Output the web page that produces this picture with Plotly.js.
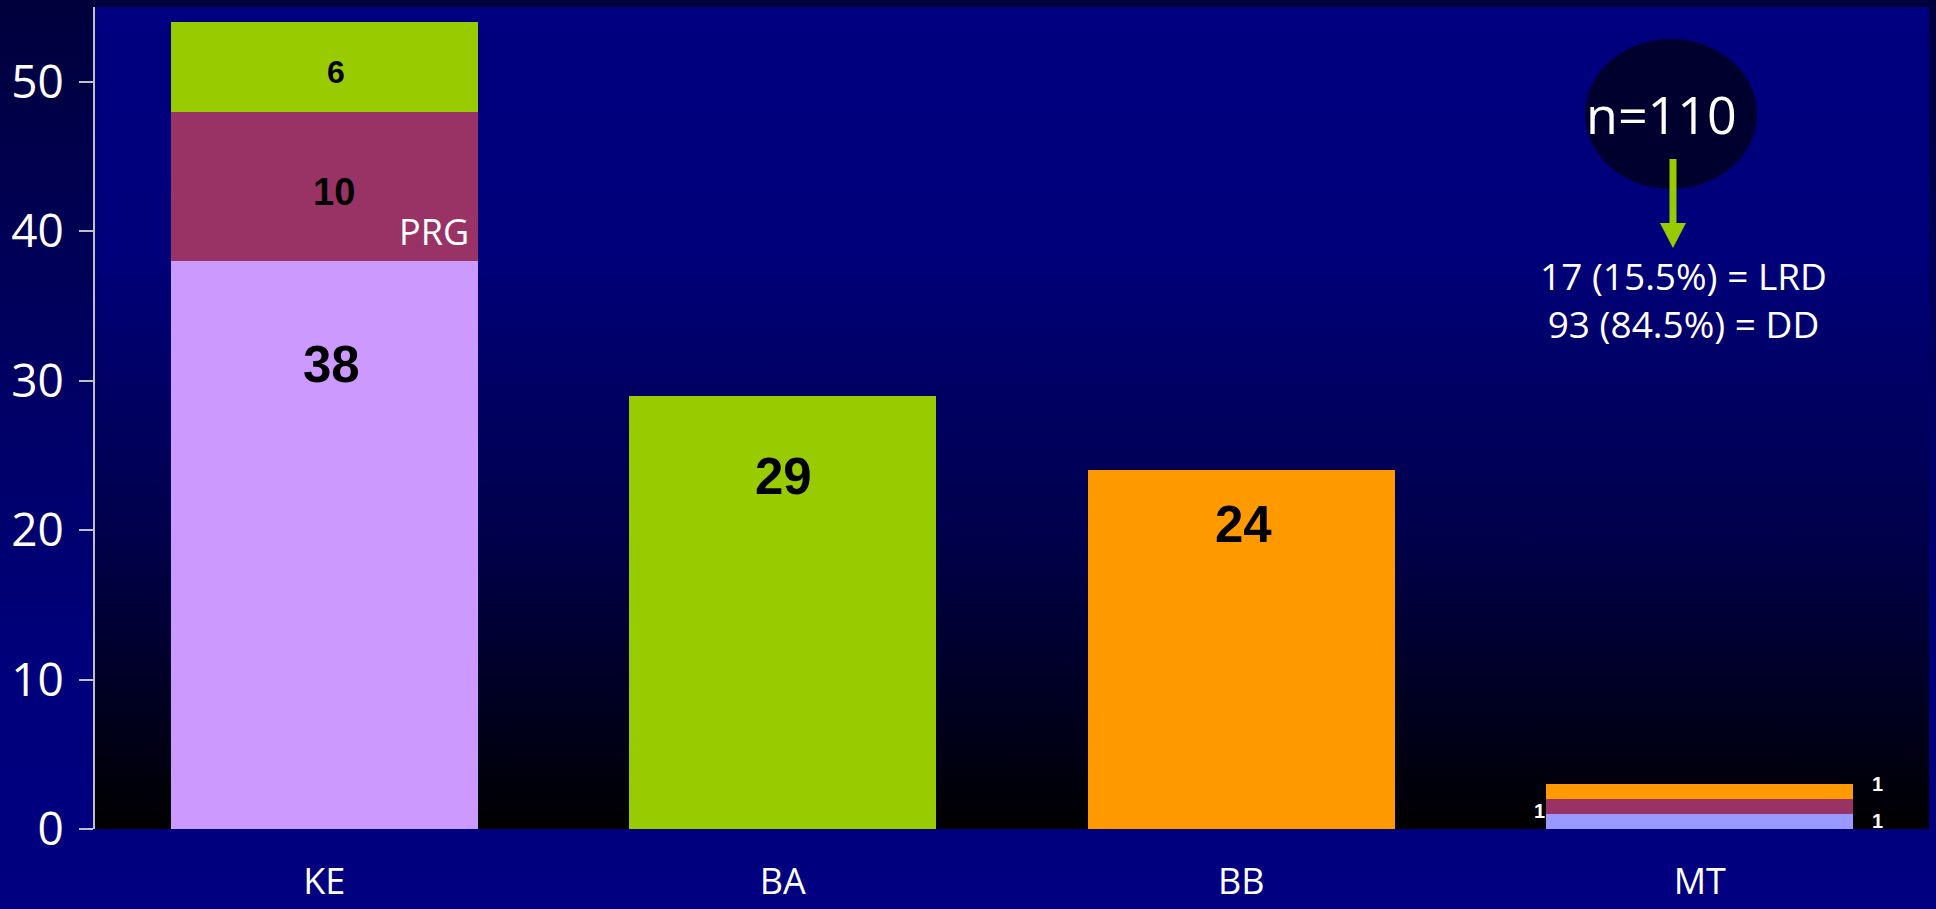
<!DOCTYPE html>
<html><head><meta charset="utf-8">
<script src="https://cdn.plot.ly/plotly-3.0.1.min.js"></script>
<style>
html,body{margin:0;padding:0;width:1936px;height:909px;overflow:hidden;background:#000080;}
#bg{position:absolute;left:0;top:0;width:1936px;height:909px;background:linear-gradient(to bottom,#00003c 0%,#000066 45%,#00007c 75%,#000080 100%);}
#plotbg{position:absolute;left:95px;top:7px;width:1834px;height:822px;background:linear-gradient(to bottom,#000080 0%,#00007a 30%,#00004a 65%,#000000 100%);}
#chart{position:absolute;left:0;top:0;width:1936px;height:909px;}
</style></head>
<body>
<div id="bg"></div><div id="plotbg"></div><div id="chart"></div>
<script>
// ---- data ----
const categories = ['KE', 'BA', 'BB', 'MT'];
const baseValues = [38, 29, 24, 1];
const prgValues = [10, null, null, 1];
const topValues = [6, null, null, 1];
const yTicks = [0, 10, 20, 30, 40, 50];
const totalN = 110;
const summaryLines = ['17 (15.5%) = LRD', '93 (84.5%) = DD'];

// ---- styles ----
const baseColors = ['#CC99FF', '#99CC00', '#FF9900', '#9999FF'];
const prgColor = '#993366';
const topColors = ['#99CC00', '#99CC00', '#99CC00', '#FF9900'];
const comic = 'Open Sans, Liberation Sans, sans-serif';
const narrowBold = 'Liberation Sans Narrow, Liberation Sans, Arial, sans-serif';

const common = {type: 'bar', x: categories, hoverinfo: 'skip'};
const traces = [
  Object.assign({}, common, {y: baseValues, marker: {color: baseColors, line: {width: 0}}, name: 'base'}),
  Object.assign({}, common, {y: prgValues, marker: {color: prgColor, line: {width: 0}}, name: 'PRG'}),
  Object.assign({}, common, {y: topValues, marker: {color: topColors, line: {width: 0}}, name: 'top'})
];

const ann = [];
function numLabel(cat, val, y, size, xshift, yshift, color) {
  ann.push({x: cat, y: y, xref: 'x', yref: 'y', text: String(val), showarrow: false,
    xanchor: 'center', yanchor: 'middle', xshift: xshift, yshift: yshift,
    font: {family: narrowBold, size: size, color: color || '#000000', weight: 700}});
}
// KE
numLabel('KE', baseValues[0], baseValues[0], 51, 7, -103);
numLabel('KE', prgValues[0], baseValues[0] + prgValues[0] / 2, 38, 10, -6);
numLabel('KE', topValues[0], baseValues[0] + prgValues[0] + topValues[0] / 2, 32, 12, -5);
// BA, BB
numLabel('BA', baseValues[1], baseValues[1], 51, 1, -81);
numLabel('BB', baseValues[2], baseValues[2], 51, 2, -54);
// MT small labels
numLabel('MT', prgValues[3], baseValues[3] + prgValues[3] / 2, 20, -160, -4, '#ffffff');
numLabel('MT', topValues[3], baseValues[3] + prgValues[3] + topValues[3], 20, 178, 0, '#ffffff');
numLabel('MT', baseValues[3], baseValues[3] / 2, 20, 178, 1, '#ffffff');
// PRG tag
ann.push({x: 'KE', y: 40, xref: 'x', yref: 'y', text: 'PRG', showarrow: false, xshift: 110,
  font: {family: comic, size: 36, color: '#ffffff'}});
// n=110
ann.push({x: 0.8544, y: 0.871, xref: 'paper', yref: 'paper', text: 'n=' + totalN, showarrow: false,
  xanchor: 'center', yanchor: 'middle', font: {family: comic, size: 52, color: '#ffffff'}});
ann.push({x: 0.866, y: 0.6436, xref: 'paper', yref: 'paper', text: summaryLines.join('<br>'), showarrow: false,
  xanchor: 'center', yanchor: 'middle', align: 'center', font: {family: comic, size: 37, color: '#ffffff'}});

const shapes = [
  {type: 'circle', xref: 'paper', yref: 'paper', x0: 0.8124, x1: 0.9062, y0: 0.7786, y1: 0.961,
   fillcolor: '#00002e', line: {width: 0}},
  {type: 'line', xref: 'paper', yref: 'paper', x0: 0.8604, x1: 0.8604, y0: 0.8151, y1: 0.7372,
   line: {color: '#99CC00', width: 7}},
  {type: 'path', xref: 'paper', yref: 'paper', path: 'M 0.8533 0.7372 L 0.8675 0.7372 L 0.8604 0.7068 Z',
   fillcolor: '#99CC00', line: {width: 0}}
];

const layout = {
  width: 1936, height: 909,
  margin: {l: 95, r: 7, t: 7, b: 80, pad: 0},
  paper_bgcolor: 'rgba(0,0,0,0)', plot_bgcolor: 'rgba(0,0,0,0)',
  barmode: 'stack', bargap: 0.33, showlegend: false,
  xaxis: {showline: false, showgrid: false, zeroline: false, ticks: '', ticklabelstandoff: 28,
    tickfont: {family: comic, size: 36, color: '#ffffff'}, fixedrange: true},
  yaxis: {range: [0, 55], tickvals: yTicks, showline: true, linecolor: '#c0c0c0', linewidth: 2,
    ticks: 'outside', ticklen: 14, tickwidth: 2, tickcolor: '#c0c0c0', showgrid: false, zeroline: false,
    ticklabelstandoff: 6,
    tickfont: {family: comic, size: 46, color: '#ffffff'}, fixedrange: true},
  annotations: ann, shapes: shapes,
  font: {family: comic, color: '#ffffff'}
};
Plotly.newPlot('chart', traces, layout, {displayModeBar: false, staticPlot: true});
</script>
</body></html>
